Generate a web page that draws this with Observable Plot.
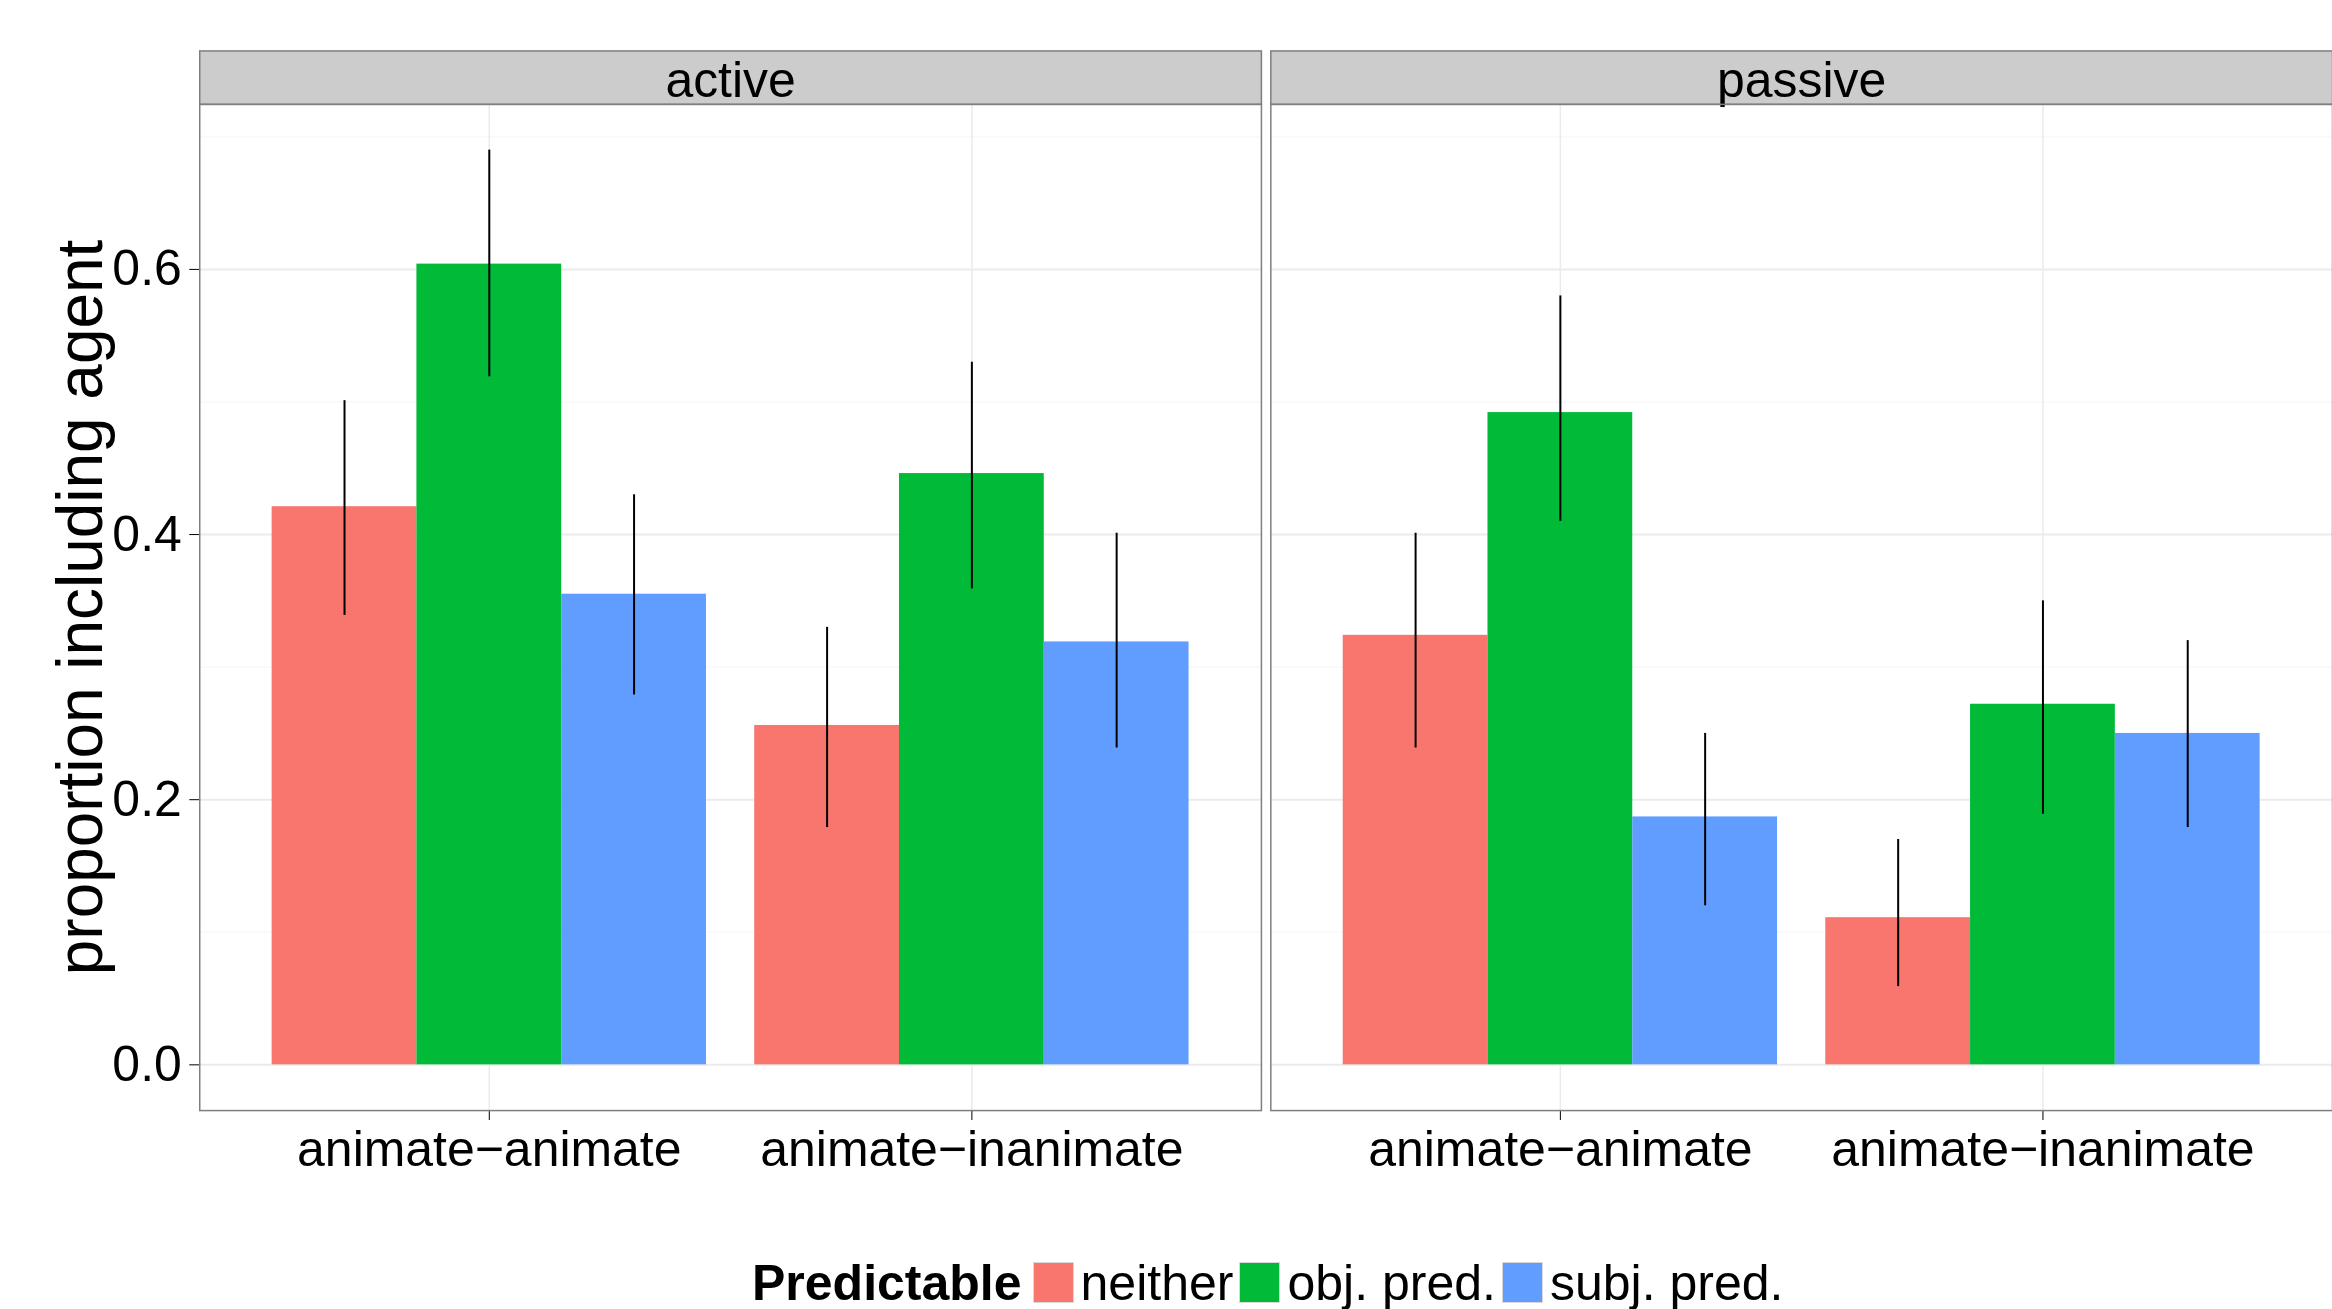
<!DOCTYPE html>
<html>
<head>
<meta charset="utf-8">
<script src="https://cdn.jsdelivr.net/npm/d3@7"></script>
<script src="https://cdn.jsdelivr.net/npm/@observablehq/plot@0.6"></script>
<style>
  html, body { margin: 0; padding: 0; background: white; overflow: hidden; }
  body { width: 2332px; height: 1309px; font-family: "Liberation Sans", Arial, Helvetica, sans-serif; }
  #chart svg { display: block; }
  #legend { display: flex; align-items: center; margin-left: 752px; margin-top: 74px; height: 41px; font-size: 50px; color: black; white-space: nowrap; }
  #legend .title { font-weight: bold; margin-right: 11px; }
  #legend .key { width: 41px; height: 41px; box-sizing: border-box; border: 1px solid #d9d9d9; margin-right: 7px; flex: none; }
  #legend .lab { margin-right: 6px; }
</style>
</head>
<body>
<div id="chart"></div>
<div id="legend"></div>
<script>
// ---- data ----
const voices = ["active", "passive"];
const animacy = ["animate\u2212animate", "animate\u2212inanimate"];
const predictable = ["neither", "obj. pred.", "subj. pred."];
const colors = ["#F8766D", "#00BA38", "#619CFF"];

// rows: animacy groups; columns: neither, obj. pred., subj. pred.
const meanActive  = [[0.421, 0.604, 0.355], [0.256, 0.446, 0.319]];
const lowerActive = [[0.339, 0.519, 0.279], [0.179, 0.359, 0.239]];
const upperActive = [[0.501, 0.690, 0.430], [0.330, 0.530, 0.401]];

const meanPassive  = [[0.324, 0.492, 0.187], [0.111, 0.272, 0.250]];
const lowerPassive = [[0.239, 0.410, 0.120], [0.059, 0.189, 0.179]];
const upperPassive = [[0.401, 0.580, 0.250], [0.170, 0.350, 0.320]];

const yTicks = [0, 0.2, 0.4, 0.6];
const yMinorTicks = [0.1, 0.3, 0.5, 0.7];
const yTitle = "proportion including agent";
const legendTitle = "Predictable";

// ---- build table (ggplot-style dodge: width 0.9, 3 bars) ----
const barW = 0.3;
const rows = [];
const tables = {
  active: [meanActive, lowerActive, upperActive],
  passive: [meanPassive, lowerPassive, upperPassive]
};
voices.forEach(v => {
  const [m, lo, hi] = tables[v];
  animacy.forEach((a, i) => {
    predictable.forEach((p, j) => {
      const xc = (i + 1) + (j - 1) * barW;
      rows.push({voice: v, animacy: a, pred: p, mean: m[i][j], lo: lo[i][j], hi: hi[i][j],
                 x1: xc - barW / 2, x2: xc + barW / 2, xc});
    });
  });
});

const W = 2335, H = 1190, mT = 104, mB = 78.5, mL = 199.5;
const panelH = H - mT - mB;

const chart = Plot.plot({
  width: W,
  height: H,
  marginLeft: mL,
  marginRight: 0,
  marginTop: mT,
  marginBottom: mB,
  style: {fontFamily: "'Liberation Sans', Arial, Helvetica, sans-serif", background: "white", overflow: "visible", color: "black"},
  fx: {domain: voices, paddingInner: 0.00877, paddingOuter: 0, round: false, axis: null, label: null},
  x: {domain: [0.4, 2.6], label: null},
  y: {domain: [-0.0345, 0.7245], label: null},
  color: {domain: predictable, range: colors},
  marks: [
    Plot.gridY(yMinorTicks, {stroke: "#fafafa", strokeOpacity: 1, strokeWidth: 2}),
    Plot.gridY(yTicks, {stroke: "#ebebeb", strokeOpacity: 1, strokeWidth: 2}),
    Plot.gridX([1, 2], {stroke: "#ebebeb", strokeOpacity: 1, strokeWidth: 1.5}),
    Plot.rectY(rows, {fx: "voice", x1: "x1", x2: "x2", y1: 0, y2: "mean", fill: "pred"}),
    Plot.ruleX(rows, {fx: "voice", x: "xc", y1: "lo", y2: "hi", stroke: "black", strokeWidth: 2}),
    Plot.axisY({ticks: yTicks, tickFormat: d3.format(".1f"), fontSize: 50, tickSize: 10, tickPadding: 8, label: null, color: "black"}),
    Plot.axisX({ticks: [1, 2], tickFormat: d => animacy[d - 1], fontSize: 50, tickSize: 10, tickPadding: 9.5, label: null, color: "black"}),
    Plot.frame({fill: "#cccccc", stroke: "#7f7f7f", strokeWidth: 1.5, insetTop: -53.5, insetBottom: panelH}),
    Plot.text(voices, {fx: d => d, text: d => d, frameAnchor: "top", dy: -23, fontSize: 50, lineAnchor: "middle", fill: "black"}),
    Plot.frame({stroke: "#7f7f7f", strokeWidth: 1.5}),
    Plot.text([yTitle], {fx: () => "active", text: d => d, frameAnchor: "left", textAnchor: "middle", rotate: -90, dx: -118, fontSize: 64, lineAnchor: "middle", fill: "black"})
  ]
});
document.getElementById("chart").appendChild(chart);

// ---- legend ----
const legend = document.getElementById("legend");
const t = document.createElement("span");
t.className = "title";
t.textContent = legendTitle;
legend.appendChild(t);
predictable.forEach((p, i) => {
  const k = document.createElement("span");
  k.className = "key";
  k.style.background = colors[i];
  legend.appendChild(k);
  const l = document.createElement("span");
  l.className = "lab";
  l.textContent = p;
  legend.appendChild(l);
});
</script>
</body>
</html>
